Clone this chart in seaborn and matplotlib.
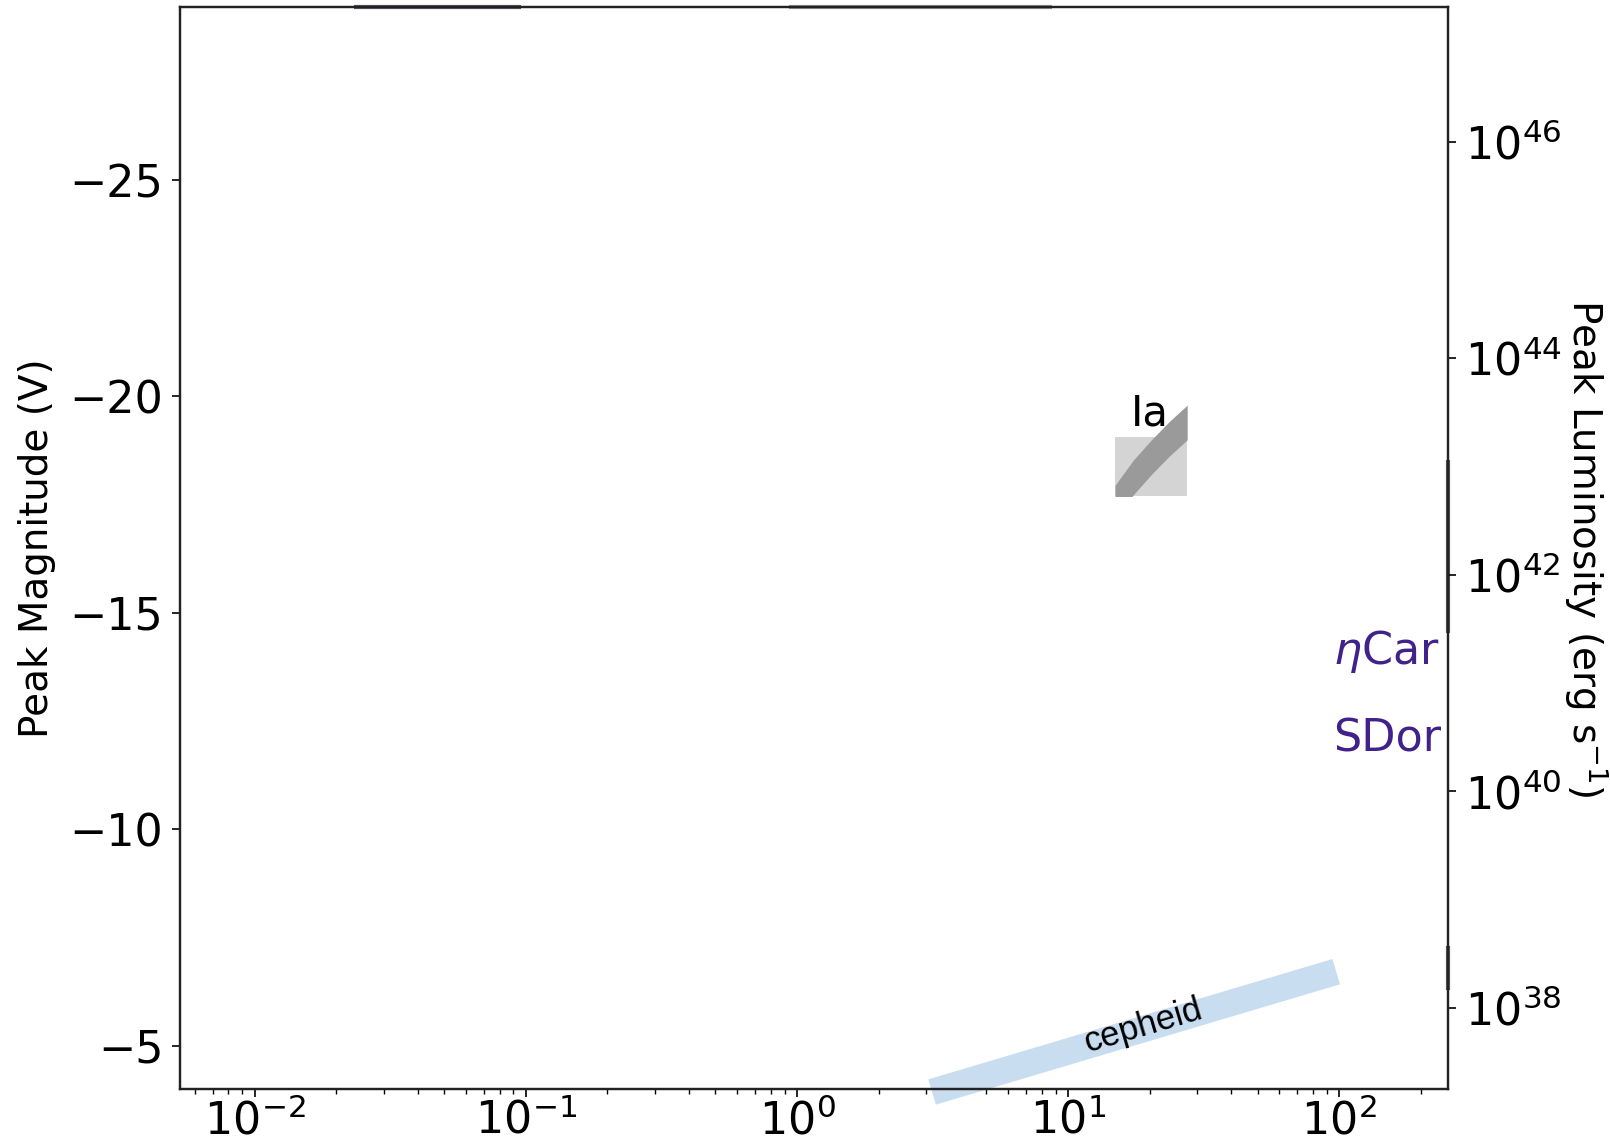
import matplotlib
matplotlib.use("Agg")
import matplotlib.pyplot as plt
import matplotlib.ticker as mticker
from matplotlib.patches import Rectangle
import numpy as np
import pandas as pd
import seaborn as sns

# x: timescale (log), y: peak V magnitude
x_limits = [0.0053, 252.0]
mag_limits = [-4.0, -29.0]

# Ia band (centre line)
ia_x = [14.9, 17.4, 20.3, 23.6, 27.5]
ia_mag = [-17.55, -18.13, -18.60, -19.02, -19.40]
ia_halfwidth = 0.4
ia_box_x = [14.9, 27.5]
ia_box_mag = [-17.70, -19.06]

# cepheid strip
cep_x = [3.15, 97.5]
cep_mag = [-3.93, -6.71]

# LBV labels
lbv_names = [r"$\eta$Car", "SDor"]
lbv_x = [95.0, 95.0]
lbv_mag = [-14.1, -12.08]

# luminosity axis: logL = 42 at M = -15.88
lum_ticks = [1e38, 1e40, 1e42, 1e44, 1e46]


def mag_to_lum(m):
    return 10 ** (42.0 - 0.4 * (m + 15.88))


sns.set_style("ticks")
plt.rcParams["font.family"] = ["DejaVu Sans"]
plt.rcParams["text.color"] = "black"
plt.rcParams["axes.labelcolor"] = "black"
plt.rcParams["xtick.color"] = "black"
plt.rcParams["ytick.color"] = "black"

fig = plt.figure(figsize=(16.1, 11.41), dpi=100)
ax = fig.add_axes([0.1118, 0.0456, 0.7876, 0.9483])

ax.set_xscale("log")
ax.set_xlim(*x_limits)
ax.set_ylim(*mag_limits)

# Ia region
box = Rectangle((ia_box_x[0], ia_box_mag[0]), ia_box_x[1] - ia_box_x[0],
                ia_box_mag[1] - ia_box_mag[0], facecolor="#d4d4d4",
                edgecolor="none", zorder=1)
ax.add_patch(box)
clip = Rectangle((ia_box_x[0], ia_box_mag[0]), ia_box_x[1] - ia_box_x[0],
                 -20.0 - ia_box_mag[0], transform=ax.transData)
band = ax.fill_between(ia_x, np.array(ia_mag) - ia_halfwidth,
                       np.array(ia_mag) + ia_halfwidth,
                       color="#9a9a9a", lw=0, zorder=2)
band.set_clip_path(clip)
ax.text(20.1, -19.6, "Ia", fontsize=30, ha="center", va="center", zorder=3)

# cepheid strip
cep = pd.DataFrame({"x": cep_x, "mag": cep_mag})
sns.lineplot(data=cep, x="x", y="mag", ax=ax, color="#c9ddf0", lw=19,
             solid_capstyle="butt", clip_on=False, zorder=2)
ax.text(np.sqrt(cep_x[0] * cep_x[1]) * 1.08, -5.45, "cepheid",
        family="Liberation Sans", fontsize=25, rotation=16.5,
        ha="center", va="center", zorder=3)

for name, xv, mv in zip(lbv_names, lbv_x, lbv_mag):
    ax.text(xv, mv, name, color="#41228a", fontsize=32, ha="left", va="center")

ax.set_xlabel("")
ax.set_ylabel("Peak Magnitude (V)", fontsize=28)
ax.yaxis.set_label_coords(-0.098, 0.5)
ax.set_yticks([-25, -20, -15, -10, -5])
ax.tick_params(axis="both", which="major", labelsize=32, length=6, width=1.2,
               direction="out", pad=6)
ax.tick_params(axis="x", which="major", pad=1)
ax.tick_params(axis="x", which="minor", length=3.5, width=1.0)
for s in ax.spines.values():
    s.set_linewidth(1.6)
    s.set_color("#222222")

ax2 = ax.twinx()
ax2.set_yscale("log")
ax2.set_ylim(mag_to_lum(mag_limits[0]), mag_to_lum(mag_limits[1]))
ax2.set_yticks(lum_ticks)
ax2.yaxis.set_minor_locator(mticker.NullLocator())
ax2.tick_params(axis="y", which="major", labelsize=32, length=6, width=1.2,
                direction="out", pad=6)
ax2.set_ylabel(r"Peak Luminosity (erg s$^{-1}$)", fontsize=28, rotation=270,
               va="center")
ax2.yaxis.set_label_coords(1.109, 0.5)
for s in ax2.spines.values():
    s.set_linewidth(1.6)
    s.set_color("#222222")

# traces of clipped features along the frame
ax.vlines([x_limits[1]] * 2, [-18.53, -7.31], [-14.53, -6.29],
          color="#555555", lw=3, clip_on=False, zorder=4)
ax.hlines([mag_limits[1]] * 2, [0.0233, 0.935], [0.0961, 8.75],
          colors=["#4d535a", "#8a8a8a"], lw=3, clip_on=False, zorder=4)

fig.savefig("out.png", dpi=100)
